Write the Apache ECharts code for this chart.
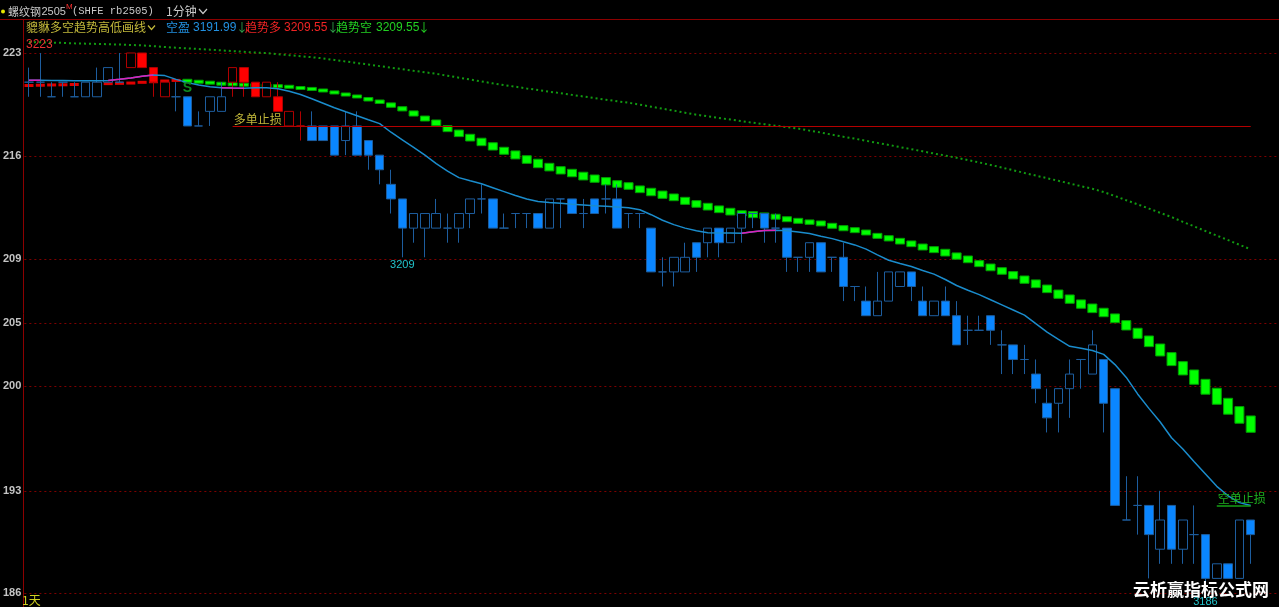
<!DOCTYPE html>
<html><head><meta charset="utf-8">
<script src="https://cdn.jsdelivr.net/npm/echarts@6/dist/echarts.min.js"></script>
<style>html,body{margin:0;padding:0;background:#000;}#c{width:1279px;height:607px;}</style>
</head><body><div id="c"></div>
<script>
// ---- candles (1-minute bars) ----
const opens = [3221,3221,3220,3221,3220,3220,3220,3221,3221,3222,
3223,3222,3220,3220,3220,3218,3219,3219,3221,3222,
3221,3220,3220,3218,3218,3218,3218,3218,3217,3218,
3217,3216,3214,3213,3211,3211,3211,3211,3211,3212,
3213,3213,3211,3212,3212,3212,3211,3213,3213,3212,
3213,3213,3213,3212,3212,3211,3208,3208,3208,3210,
3210,3211,3210,3211,3212,3212,3211,3211,3209,3209,
3210,3209,3209,3207,3206,3205,3206,3207,3208,3206,
3205,3206,3205,3204,3204,3205,3203,3203,3202,3201,
3199,3199,3200,3202,3201,3202,3200,3191,3192,3192,
3189,3192,3189,3190,3190,3187,3188,3187,3191];
const closes = [3221,3221,3220,3221,3220,3221,3221,3222,3221,3223,
3222,3221,3221,3220,3218,3218,3220,3220,3222,3221,
3220,3221,3219,3219,3218,3217,3217,3216,3218,3216,
3216,3215,3213,3211,3212,3212,3212,3211,3212,3213,
3213,3211,3211,3212,3212,3211,3213,3213,3212,3212,
3212,3213,3211,3212,3212,3208,3208,3209,3209,3209,
3211,3210,3211,3212,3212,3211,3211,3209,3209,3210,
3208,3209,3207,3207,3205,3206,3208,3208,3207,3205,
3206,3205,3203,3204,3204,3204,3203,3202,3202,3200,
3198,3200,3201,3202,3203,3199,3192,3191,3192,3190,
3191,3189,3191,3190,3187,3188,3187,3191,3190];
const lows = [3220,3220,3220,3220,3220,3220,3220,3221,3221,3222,
3222,3220,3220,3219,3218,3218,3218,3219,3220,3220,
3220,3220,3219,3218,3217,3217,3217,3216,3216,3216,
3215,3214,3212,3209,3210,3209,3211,3210,3210,3211,
3212,3211,3211,3211,3211,3211,3211,3211,3212,3211,
3212,3212,3211,3211,3211,3208,3207,3207,3208,3208,
3209,3209,3210,3210,3211,3210,3210,3208,3208,3208,
3208,3208,3206,3206,3205,3205,3206,3207,3206,3205,
3205,3205,3203,3203,3204,3203,3201,3201,3201,3199,
3197,3197,3198,3200,3201,3197,3192,3191,3190,3187,
3188,3188,3188,3188,3186,3187,3187,3187,3188];
const highs = [3222,3223,3221,3221,3221,3221,3222,3222,3223,3223,
3223,3222,3221,3221,3220,3219,3220,3221,3222,3222,
3221,3221,3221,3219,3219,3219,3218,3218,3219,3219,
3217,3216,3215,3213,3212,3212,3213,3212,3212,3213,
3214,3213,3212,3212,3212,3212,3213,3213,3213,3213,
3213,3214,3214,3212,3212,3211,3209,3209,3210,3210,
3211,3211,3211,3212,3212,3212,3212,3211,3209,3210,
3210,3209,3210,3207,3207,3208,3208,3208,3208,3207,
3206,3207,3206,3205,3205,3205,3204,3203,3203,3202,
3200,3200,3202,3202,3204,3202,3200,3194,3194,3192,
3193,3192,3191,3192,3190,3188,3188,3191,3191];
const redCandles = [9,10,11,12,18,19,20,21,22,23,24];
const slotCount = 111;

// ---- 空盈 line ----
const kongYing = [3221.14,3221.13,3221.12,3221.11,3221.10,3221.09,3221.09,3221.12,3221.20,3221.29,
3221.41,3221.49,3221.45,3221.19,3220.97,3220.80,3220.68,3220.62,3220.60,3220.59,
3220.62,3220.62,3220.55,3220.38,3220.16,3219.86,3219.56,3219.25,3218.97,3218.70,
3218.42,3218.16,3217.57,3217.05,3216.53,3216.00,3215.42,3214.90,3214.46,3214.24,
3214.04,3213.77,3213.50,3213.23,3213.00,3212.83,3212.76,3212.70,3212.64,3212.59,
3212.54,3212.50,3212.44,3212.39,3212.26,3211.92,3211.54,3211.24,3211.00,3210.82,
3210.69,3210.67,3210.66,3210.65,3210.75,3210.83,3210.86,3210.82,3210.73,3210.63,
3210.45,3210.28,3210.06,3209.85,3209.56,3209.17,3208.80,3208.58,3208.37,3208.10,
3207.85,3207.48,3207.07,3206.74,3206.44,3206.09,3205.74,3205.39,3205.04,3204.45,
3203.87,3203.37,3202.90,3202.77,3202.62,3202.35,3201.65,3200.77,3199.64,3198.65,
3197.72,3196.64,3195.86,3194.99,3194.15,3193.31,3192.66,3192.19,3191.99];
const pinkRanges = [[0,1],[7,11],[17,19],[63,66]];

// ---- 趋势多 (red dashes) ----
const trendLong = [3220.77,3220.79,3220.81,3220.82,3220.84,3220.86,3220.88,3220.90,3220.92,3220.94,3220.99,3221.03,3221.08,3221.12];

// ---- 趋势空 blocks (start at bar 14) ----
const shortStart = 14;
const trendShortTop = [3221.18,3221.12,3221.05,3220.98,3220.94,3220.91,3220.88,3220.84,3220.81,3220.77,
3220.70,3220.64,3220.53,3220.40,3220.26,3220.12,3219.95,3219.78,3219.58,3219.32,
3219.03,3218.68,3218.41,3218.02,3217.72,3217.43,3217.16,3216.85,3216.54,3216.29,
3215.96,3215.72,3215.44,3215.21,3215.03,3214.83,3214.64,3214.46,3214.25,3214.11,
3213.89,3213.73,3213.54,3213.34,3213.11,3212.88,3212.70,3212.52,3212.36,3212.19,
3212.13,3212.04,3211.95,3211.78,3211.67,3211.56,3211.49,3211.33,3211.17,3211.03,
3210.87,3210.64,3210.48,3210.30,3210.12,3209.91,3209.73,3209.55,3209.30,3209.09,
3208.77,3208.54,3208.29,3208.02,3207.72,3207.45,3207.10,3206.76,3206.42,3206.08,
3205.80,3205.51,3205.12,3204.66,3204.14,3203.61,3203.06,3202.47,3201.85,3201.28,
3200.64,3200.03,3199.34,3198.77,3198.13];
const trendShortBottom = [3221.01,3220.94,3220.88,3220.81,3220.77,3220.74,3220.70,3220.67,3220.64,3220.60,
3220.50,3220.43,3220.33,3220.19,3220.05,3219.92,3219.71,3219.54,3219.28,3219.03,
3218.68,3218.34,3218.02,3217.61,3217.27,3216.97,3216.65,3216.35,3216.06,3215.74,
3215.44,3215.14,3214.92,3214.71,3214.52,3214.30,3214.14,3213.96,3213.80,3213.66,
3213.43,3213.22,3213.04,3212.88,3212.63,3212.43,3212.24,3212.06,3211.90,3211.83,
3211.72,3211.66,3211.61,3211.44,3211.33,3211.26,3211.15,3210.99,3210.82,3210.69,
3210.53,3210.30,3210.12,3209.91,3209.73,3209.50,3209.32,3209.09,3208.87,3208.63,
3208.36,3208.08,3207.84,3207.52,3207.22,3206.92,3206.58,3206.19,3205.85,3205.51,
3205.21,3204.93,3204.52,3204.02,3203.45,3202.88,3202.24,3201.58,3200.94,3200.30,
3199.62,3198.93,3198.25,3197.63,3197.01];

// ---- dotted trend line ----
const trendDotted = [3223.75,3223.73,3223.71,3223.69,3223.66,3223.64,3223.62,3223.60,3223.58,3223.55,
3223.52,3223.47,3223.41,3223.36,3223.32,3223.27,3223.23,3223.18,3223.13,3223.08,
3223.03,3222.99,3222.92,3222.85,3222.78,3222.71,3222.63,3222.52,3222.42,3222.31,
3222.21,3222.10,3221.99,3221.89,3221.78,3221.68,3221.57,3221.44,3221.31,3221.18,
3221.05,3220.92,3220.80,3220.69,3220.57,3220.46,3220.35,3220.24,3220.13,3220.02,
3219.91,3219.80,3219.69,3219.59,3219.46,3219.32,3219.18,3219.05,3218.91,3218.77,
3218.66,3218.55,3218.44,3218.33,3218.22,3218.12,3218.02,3217.92,3217.82,3217.68,
3217.55,3217.40,3217.26,3217.13,3216.98,3216.84,3216.70,3216.55,3216.41,3216.26,
3216.11,3215.97,3215.82,3215.66,3215.50,3215.33,3215.15,3214.97,3214.78,3214.60,
3214.42,3214.24,3214.06,3213.87,3213.70,3213.47,3213.20,3212.91,3212.63,3212.34,
3212.05,3211.76,3211.43,3211.12,3210.80,3210.49,3210.18,3209.86,3209.55];

// ---- stops ----
const longStop = {from: 18, to: 108, value: 3218};
const shortStop = {from: 105, to: 108, value: 3192};

// ---- y axis ----
const yMin = 3185.04, yMax = 3225.26;
const tickValues = [3223, 3215.94, 3208.89, 3204.5, 3200.2, 3193, 3186];
const tickLabels = ['223', '216', '209', '205', '200', '193', '186'];

// ---- build ----
const categories = [];
for (let i = 0; i < slotCount; i++) categories.push(String(i + 1));

const palette = {
  blue: {up: '#000000', down: '#0a86ff', border: '#1d5d9e'},
  red: {up: '#000000', down: '#ff0000', border: '#b00000'}
};
const candleData = opens.map((o, i) => {
  const p = redCandles.indexOf(i) >= 0 ? palette.red : palette.blue;
  const fill = closes[i] < o ? p.down : p.up;
  return {value: [o, closes[i], lows[i], highs[i]],
    itemStyle: {color: fill, color0: fill, borderColor: p.border, borderColor0: p.border, borderWidth: 1}};
});

const pinkData = kongYing.map((v, i) => pinkRanges.some(r => i >= r[0] && i <= r[1]) ? v : null);
const longBlocks = trendLong.map((v, i) => [i, v, v]);
const shortBlocks = trendShortTop.map((v, k) => [k + shortStart, v, trendShortBottom[k]]);
const gridData = tickValues.map(v => [0, v]);

function blockRender(fill, stroke, minH) {
  return function (params, api) {
    const i = api.value(0);
    const p1 = api.coord([i, api.value(1)]);
    const p2 = api.coord([i, api.value(2)]);
    const w = 9;
    let top = Math.min(p1[1], p2[1]);
    let h = Math.abs(p1[1] - p2[1]);
    if (h < minH) { top = (p1[1] + p2[1]) / 2 - minH / 2; h = minH; }
    return {type: 'rect', shape: {x: p1[0] - w / 2, y: top, width: w, height: h},
      style: {fill: fill, stroke: stroke, lineWidth: stroke ? 1 : 0}};
  };
}
function gridRender(params, api) {
  const y = Math.round(api.coord([0, api.value(1)])[1]) + 0.5;
  const cs = params.coordSys;
  return {type: 'line', shape: {x1: cs.x + 1, y1: y, x2: cs.x + cs.width, y2: y},
    style: {stroke: '#7e0000', lineWidth: 1, lineDash: [2, 3]}};
}

const cjk = "'Noto Sans CJK SC', sans-serif";
const lat = "'Liberation Sans', Arial, sans-serif";
function txt(text, x, y, fill, font, extra) {
  const el = {type: 'text', silent: true, z: 100,
    style: {text: text, x: x, y: y, fill: fill, font: font, verticalAlign: 'middle'}};
  if (extra) Object.assign(el.style, extra);
  return el;
}

const chart = echarts.init(document.getElementById('c'), null, {renderer: 'canvas'});
chart.setOption({
  backgroundColor: '#000000',
  animation: false,
  grid: {left: 20, right: 0, top: 20, bottom: 0, containLabel: false},
  xAxis: {type: 'category', data: categories, boundaryGap: true,
    axisLine: {show: false}, axisTick: {show: false}, axisLabel: {show: false}, splitLine: {show: false}},
  yAxis: {type: 'value', min: yMin, max: yMax, scale: true,
    axisLine: {show: true, lineStyle: {color: '#8c0000', width: 1}},
    axisTick: {show: false}, splitLine: {show: false},
    axisLabel: {show: true, customValues: tickValues, margin: 2, color: '#c4c4c4',
      fontSize: 11, fontWeight: 'bold', fontFamily: lat,
      formatter: function (v) {
        for (let k = 0; k < tickValues.length; k++) if (Math.abs(tickValues[k] - v) < 0.01) return tickLabels[k];
        return '';
      }}},
  series: [
    {type: 'custom', name: 'grid', data: gridData, z: 0, silent: true, clip: false,
      encode: {x: 0, y: 1}, renderItem: gridRender},
    {type: 'line', name: 'dotted', data: trendDotted, symbol: 'none', z: 1, silent: true,
      lineStyle: {color: '#119a11', width: 2, type: [2, 3]}},
    {type: 'custom', name: 'trendLong', data: longBlocks, z: 2, silent: true,
      encode: {x: 0, y: [1, 2]}, renderItem: blockRender('#e00000', null, 3)},
    {type: 'custom', name: 'trendShort', data: shortBlocks, z: 2, silent: true,
      encode: {x: 0, y: [1, 2]}, renderItem: blockRender('#00ff00', '#00a000', 3)},
    {type: 'candlestick', name: 'k', data: candleData, barWidth: 9, z: 3, silent: true,
      markLine: {silent: true, symbol: ['none', 'none'], animation: false,
        data: [
          [{coord: [categories[longStop.from], longStop.value],
            lineStyle: {color: '#b40000', width: 1, type: 'solid'},
            label: {show: true, position: 'insideStartTop', formatter: '多单止损', color: '#c2b83a',
              fontSize: 12, fontFamily: cjk, distance: 1}},
           {coord: [categories[longStop.to], longStop.value]}],
          [{coord: [categories[shortStop.from], shortStop.value],
            lineStyle: {color: '#14a014', width: 1.5, type: 'solid'},
            label: {show: true, position: 'insideStartTop', formatter: '空单止损', color: '#1fb01f',
              fontSize: 12, fontFamily: cjk, distance: 1}},
           {coord: [categories[shortStop.to], shortStop.value]}]
        ]},
      markPoint: {silent: true, animation: false, symbol: 'circle', symbolSize: 1,
        itemStyle: {color: 'rgba(0,0,0,0)'},
        label: {show: true, position: 'inside', fontFamily: lat, fontSize: 11},
        data: [
          {coord: [categories[1], highs[1]], label: {formatter: '3223', color: '#e83232', fontSize: 12, offset: [-1, -8]}},
          {coord: [categories[33], lows[33]], label: {formatter: '3209', color: '#22c4cc', offset: [0, 8]}},
          {coord: [categories[104], lows[104]], label: {formatter: '3186', color: '#22c4cc', offset: [0, 9]}},
          {coord: [categories[14], opens[14]], label: {formatter: 'S', color: '#0f8a1f', fontSize: 14, fontWeight: 'bold', offset: [0, -9]}}
        ]}},
    {type: 'line', name: '空盈', data: kongYing, symbol: 'none', z: 4, silent: true,
      lineStyle: {color: '#1a8ccc', width: 1.5}},
    {type: 'line', name: 'pink', data: pinkData, symbol: 'none', z: 5, silent: true, connectNulls: false,
      lineStyle: {color: '#e020b8', width: 1.5}}
  ],
  graphic: [
    {type: 'line', silent: true, z: 100, shape: {x1: 0, y1: 19.5, x2: 1279, y2: 19.5}, style: {stroke: '#8c0000', lineWidth: 1}},
    {type: 'circle', silent: true, z: 100, shape: {cx: 3, cy: 11.5, r: 2}, style: {fill: '#e6e600'}},
    txt('螺纹钢', 8, 11.5, '#c8c8c8', '11px ' + cjk),
    txt('2505', 41.5, 11.5, '#c8c8c8', '11px ' + lat),
    txt('M', 66, 6.5, '#ff3030', '8px ' + lat),
    txt('(SHFE rb2505)', 72, 11.5, '#c8c8c8', "10.5px 'Liberation Mono', monospace"),
    txt('1分钟', 166, 11.5, '#c8c8c8', '12px ' + cjk),
    {type: 'polyline', silent: true, z: 100, shape: {points: [[199, 9], [203, 13.5], [207, 9]]}, style: {stroke: '#c8c8c8', lineWidth: 1.2, fill: null}},
    txt('貔貅多空趋势高低画线', 26, 27.5, '#c2b83a', '12px ' + cjk),
    {type: 'polyline', silent: true, z: 100, shape: {points: [[148, 25.5], [151.5, 29.5], [155, 25.5]]}, style: {stroke: '#c2b83a', lineWidth: 1.2, fill: null}},
    txt('空盈', 166, 27.5, '#2290e0', '12px ' + cjk),
    txt('3191.99', 193, 27.5, '#2290e0', '12px ' + lat),
    txt('↓', 236, 27.5, '#2fa04a', '12px ' + cjk),
    txt('趋势多', 245, 27.5, '#f02424', '12px ' + cjk),
    txt('3209.55', 284, 27.5, '#f02424', '12px ' + lat),
    txt('↓', 327, 27.5, '#2fa04a', '12px ' + cjk),
    txt('趋势空', 336, 27.5, '#22d022', '12px ' + cjk),
    txt('3209.55', 376, 27.5, '#22d022', '12px ' + lat),
    txt('↓', 418, 27.5, '#22d022', '12px ' + cjk),
    txt('1天', 22, 600, '#d0d020', '12px ' + cjk),
    txt('云析赢指标公式网', 1133, 590, '#ffffff', 'bold 17px ' + cjk,
      {shadowColor: '#555555', shadowBlur: 0, shadowOffsetX: 1, shadowOffsetY: 1})
  ]
});
</script></body></html>
